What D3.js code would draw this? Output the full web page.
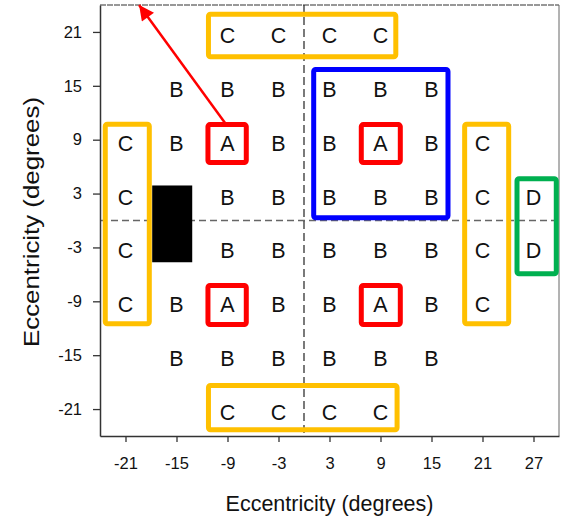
<!DOCTYPE html>
<meta charset="utf-8">
<head>
  <title>Eccentricity grid</title>
</head>
<style>
    body {
        margin: 0;
        background-color: white;
    }

    svg text {
        font-family: Arial, "Liberation Sans", sans-serif;
        fill: #111;
    }

    .letter {
        font-size: 21.5px;
    }

    .axis-title {
        font-size: 21.5px;
    }
</style>
<body>
    <svg id="chart" width="563" height="518"></svg>

    <script src="https://cdn.jsdelivr.net/npm/d3@7"></script>

    <script>
        var width = 563,
            height = 518,
            margin = {top: 5, right: 4, bottom: 82, left: 100};

        // tick values (degrees)
        var xTicks = [-21, -15, -9, -3, 3, 9, 15, 21, 27];
        var yTicks = [21, 15, 9, 3, -3, -9, -15, -21];

        // one string per row, one char per column of xTicks
        var rowY = [21, 15, 9, 3, -3, -9, -15, -21];
        var rowLetters = [
            "  CCCC   ",
            " BBBBBB  ",
            "CBABBABC ",
            "C BBBBBCD",
            "C BBBBBCD",
            "CBABBABC ",
            " BBBBBB  ",
            "  CCCC   "
        ];

        // outlined boxes: [x0, x1, y0, y1] in degrees
        var yellowBoxes = [[-11.24, 10.8, 18.23, 22.97], [-11.24, 10.95, -23.3, -18.38],
                           [-23.38, -18.2, -11.5, 10.73], [18.9, 24.08, -11.5, 10.73]];
        var redBoxes = [[-11.3, -6.79, 6.45, 10.68], [6.74, 11.33, 6.45, 10.68],
                        [-11.3, -6.79, -11.58, -7.23], [6.74, 11.33, -11.58, -7.23]];
        var blueBoxes = [[1.14, 16.94, 0.31, 16.82]];
        var greenBoxes = [[25.06, 29.68, -5.93, 4.66]];
        var blindSpot = [-17.86, -13.15, -4.65, 3.9];
        var arrowFrom = [-9.2, 10.75],
            arrowTo = [-19.4, 24.0];

        var x = d3.scaleLinear().domain([-24, 30]).range([margin.left, width - margin.right]);
        var y = d3.scaleLinear().domain([-24, 24]).range([height - margin.bottom, margin.top]);

        var svg = d3.select("#chart");

        var defs = svg.append("defs");
        defs.append("marker")
            .attr("id", "arrowhead")
            .attr("markerUnits", "userSpaceOnUse")
            .attr("viewBox", "0 0 10 10")
            .attr("refX", 10)
            .attr("refY", 5)
            .attr("markerWidth", 17)
            .attr("markerHeight", 15)
            .attr("orient", "auto")
            .append("path")
            .attr("d", "M0,0L10,5L0,10z")
            .attr("fill", "#f00");

        // frame: top and right are light, left and bottom are the axes
        svg.append("line")
            .attr("x1", x(-24)).attr("x2", x(30))
            .attr("y1", y(24)).attr("y2", y(24))
            .attr("stroke", "#777")
            .attr("stroke-width", 1.3)
            .attr("stroke-dasharray", "6,1");
        svg.append("line")
            .attr("x1", x(30)).attr("x2", x(30))
            .attr("y1", y(24)).attr("y2", y(-24))
            .attr("stroke", "#666")
            .attr("stroke-width", 1);

        // dashed cross through 0,0
        svg.append("line")
            .attr("x1", x(-24)).attr("x2", x(30))
            .attr("y1", y(0)).attr("y2", y(0))
            .attr("stroke", "#666")
            .attr("stroke-width", 1.3)
            .attr("stroke-dasharray", "7,4");
        svg.append("line")
            .attr("x1", x(0)).attr("x2", x(0))
            .attr("y1", y(24)).attr("y2", y(-24))
            .attr("stroke", "#222")
            .attr("stroke-width", 1.2)
            .attr("stroke-dasharray", "8,4");

        var plain = function(d) { return String(d); };

        var xAxis = svg.append("g")
            .attr("transform", "translate(0," + y(-24) + ")")
            .call(d3.axisBottom(x).tickValues(xTicks).tickFormat(plain)
                .tickSize(6).tickPadding(15).tickSizeOuter(0));
        var yAxis = svg.append("g")
            .attr("transform", "translate(" + x(-24) + ",0)")
            .call(d3.axisLeft(y).tickValues(yTicks).tickFormat(plain)
                .tickSize(7).tickPadding(11).tickSizeOuter(0));

        [xAxis, yAxis].forEach(function(ax) {
            ax.select(".domain").attr("stroke", "#333").attr("stroke-width", 1.5);
            ax.selectAll(".tick line").attr("stroke", "#333").attr("stroke-width", 1.3);
            ax.selectAll(".tick text")
                .attr("fill", "#111")
                .style("font-family", "Arial, 'Liberation Sans', sans-serif")
                .style("font-size", "16.5px");
        });

        // letters
        rowLetters.forEach(function(row, r) {
            row.split("").forEach(function(ch, c) {
                if (ch === " ") return;
                svg.append("text")
                    .attr("class", "letter")
                    .attr("x", x(xTicks[c]))
                    .attr("y", y(rowY[r]) + 4)
                    .attr("text-anchor", "middle")
                    .attr("dominant-baseline", "central")
                    .text(ch);
            });
        });

        svg.append("rect")
            .attr("x", x(blindSpot[0]))
            .attr("y", y(blindSpot[3]))
            .attr("width", x(blindSpot[1]) - x(blindSpot[0]))
            .attr("height", y(blindSpot[2]) - y(blindSpot[3]))
            .attr("fill", "#000");

        function drawBoxes(list, color) {
            svg.append("g").selectAll("rect")
                .data(list)
                .enter()
                .append("rect")
                .attr("x", function(d) { return x(d[0]); })
                .attr("y", function(d) { return y(d[3]); })
                .attr("width", function(d) { return x(d[1]) - x(d[0]); })
                .attr("height", function(d) { return y(d[2]) - y(d[3]); })
                .attr("rx", 2)
                .attr("fill", "none")
                .attr("stroke", color)
                .attr("stroke-width", 5);
        }
        drawBoxes(yellowBoxes, "#FFC000");
        drawBoxes(blueBoxes, "#0000FF");
        drawBoxes(greenBoxes, "#00B050");
        drawBoxes(redBoxes, "#FF0000");

        svg.append("line")
            .attr("x1", x(arrowFrom[0])).attr("y1", y(arrowFrom[1]))
            .attr("x2", x(arrowTo[0])).attr("y2", y(arrowTo[1]))
            .attr("stroke", "#f00")
            .attr("stroke-width", 2.5)
            .attr("marker-end", "url(#arrowhead)");

        // axis titles
        svg.append("text")
            .attr("class", "axis-title")
            .attr("x", (x(-24) + x(30)) / 2)
            .attr("y", 511)
            .attr("text-anchor", "middle")
            .text("Eccentricity (degrees)");

        svg.append("text")
            .attr("class", "axis-title")
            .attr("transform", "translate(39,222) rotate(-90)")
            .attr("text-anchor", "middle")
            .attr("textLength", 250)
            .attr("lengthAdjust", "spacingAndGlyphs")
            .text("Eccentricity (degrees)");
    </script>
</body>
